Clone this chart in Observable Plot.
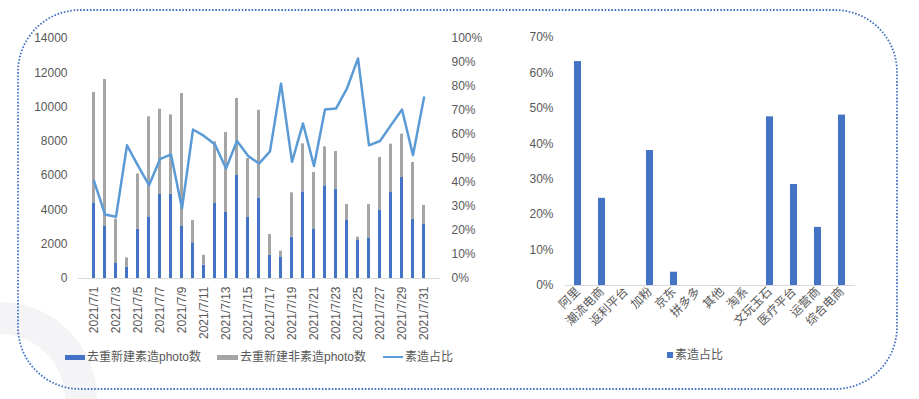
<!DOCTYPE html>
<html><head><meta charset="utf-8">
<script src="https://cdn.jsdelivr.net/npm/d3@7"></script>
<script src="https://cdn.jsdelivr.net/npm/@observablehq/plot@0.6"></script>
<style>
body{margin:0;background:#fff;}
#wrap{position:relative;width:919px;height:399px;overflow:hidden;font-family:"Liberation Sans","Noto Sans CJK SC",sans-serif;color:#595959;}
.abs{position:absolute;top:0;}
.legend{position:absolute;font-size:12px;line-height:14px;white-space:nowrap;color:#595959;}
.sw{position:absolute;}
</style></head><body><div id="wrap">
<svg class="abs" style="left:0" width="919" height="399" id="bg"></svg>
<div class="abs" id="left" style="left:0"></div>
<div class="abs" id="right" style="left:490px"></div>
<div id="legendL"></div>
<div id="legendR"></div>
<svg class="abs" style="left:0;pointer-events:none" width="919" height="399" id="fg"></svg>
</div>
<script>
// ---- data ----
const days = ["2021/7/1","2021/7/2","2021/7/3","2021/7/4","2021/7/5","2021/7/6","2021/7/7","2021/7/8","2021/7/9","2021/7/10",
  "2021/7/11","2021/7/12","2021/7/13","2021/7/14","2021/7/15","2021/7/16","2021/7/17","2021/7/18","2021/7/19","2021/7/20",
  "2021/7/21","2021/7/22","2021/7/23","2021/7/24","2021/7/25","2021/7/26","2021/7/27","2021/7/28","2021/7/29","2021/7/30","2021/7/31"];
const dayTicks = ["2021/7/1","2021/7/3","2021/7/5","2021/7/7","2021/7/9","2021/7/11","2021/7/13","2021/7/15","2021/7/17",
  "2021/7/19","2021/7/21","2021/7/23","2021/7/25","2021/7/27","2021/7/29","2021/7/31"];
const suzaoPhoto = [4410,3070,875,660,2875,3595,4900,4920,3070,2080,776,4375,3850,6010,3560,4700,1360,1260,2410,5055,
  2895,5405,5210,3420,2215,2370,4000,5015,5890,3440,3185];
const feiSuzaoPhoto = [6440,8540,2585,540,3225,5835,4975,4625,7720,1305,584,3595,4665,4490,3440,5115,1205,335,2585,2800,
  3290,2275,2200,895,195,1945,3060,2820,2530,3325,1075];
const suzaoRatio = [40.7,26.7,25.7,55.5,47.0,38.9,49.7,51.7,29.2,62.1,59.4,55.8,45.8,57.3,51.1,47.9,53.0,81.2,48.6,64.6,
  46.9,70.4,70.8,79.2,91.7,55.5,57.3,63.9,70.4,51.4,75.4];
const countTicks = [0,2000,4000,6000,8000,10000,12000,14000];
const pctTicksL = [0,10,20,30,40,50,60,70,80,90,100];
const seriesNames = ["去重新建素造photo数","去重新建非素造photo数","素造占比"];

const platforms = ["阿里","潮流电商","返利平台","加粉","京东","拼多多","其他","淘系","文玩玉石","医疗平台","运营商","综合电商"];
const platformRatio = [0.632,0.246,0,0.381,0.0375,0,0,0,0.476,0.285,0.164,0.481];
const pctTicksR = [0,0.1,0.2,0.3,0.4,0.5,0.6,0.7];
const rightSeries = "素造占比";

// ---- styles ----
const BLUE = "#4472C4", GRAY = "#A5A5A5", LINE = "#5B9BD5", TXT = "#595959";
const FONT = '"Liberation Sans","Noto Sans CJK SC",sans-serif';
const YMAX = 14000;

// background ring watermark
d3.select("#bg").append("path")
  .attr("d", d3.arc()({innerRadius:65, outerRadius:97, startAngle:0, endAngle:2*Math.PI}))
  .attr("transform","translate(0,399)").attr("fill","#f4f3f6");

// ---- left chart ----
const barRows = [];
days.forEach((d,i)=>{
  barRows.push({day:d, s:seriesNames[0], v:suzaoPhoto[i]});
  barRows.push({day:d, s:seriesNames[1], v:feiSuzaoPhoto[i]});
});
const lineRows = days.map((d,i)=>({day:d, r:suzaoRatio[i]}));

const left = Plot.plot({
  width:490, height:340, marginLeft:78, marginRight:50, marginTop:38, marginBottom:62,
  style:{background:"transparent", fontFamily:FONT, fontSize:"12px", color:TXT, overflow:"visible"},
  x:{type:"band", domain:days, paddingInner:0.72, paddingOuter:0.36, axis:null},
  y:{domain:[0,YMAX], axis:null},
  color:{domain:seriesNames.slice(0,2), range:[BLUE,GRAY]},
  marks:[
    Plot.ruleY([0], {stroke:"#d9d9d9"}),
    Plot.barY(barRows, {x:"day", y:"v", fill:"s"}),
    Plot.lineY(lineRows, {x:"day", y:d=>d.r/100*YMAX, stroke:LINE, strokeWidth:2.5}),
    Plot.axisY({anchor:"left", ticks:countTicks, tickFormat:d=>String(d), tickSize:0, tickPadding:11, label:null}),
    Plot.axisY({anchor:"right", ticks:pctTicksL.map(p=>p/100*YMAX), tickFormat:d=>Math.round(d/YMAX*100)+"%", tickSize:0, tickPadding:11, label:null}),
    Plot.axisX({ticks:dayTicks, tickRotate:-90, tickSize:0, tickPadding:8, label:null})
  ]
});
document.getElementById("left").appendChild(left);

// ---- right chart ----
const right = Plot.plot({
  width:429, height:340, marginLeft:75, marginRight:64, marginTop:37, marginBottom:55,
  style:{background:"transparent", fontFamily:FONT, fontSize:"12px", color:TXT, overflow:"visible"},
  x:{type:"band", domain:platforms, paddingInner:0.7, paddingOuter:0.35, axis:null},
  y:{domain:[0,0.7], axis:null},
  marks:[
    Plot.ruleY([0], {stroke:"#d9d9d9"}),
    Plot.barY(platforms, {x:d=>d, y:(d,i)=>platformRatio[i], fill:BLUE}),
    Plot.axisY({ticks:pctTicksR, tickFormat:d3.format(".0%"), tickSize:0, tickPadding:12, label:null}),
    Plot.axisX({tickRotate:-45, tickSize:0, tickPadding:4, label:null})
  ]
});
document.getElementById("right").appendChild(right);

// ---- legends ----
const lgL = d3.select("#legendL");
const items = [
  {x:65, w:20, h:5, c:BLUE, t:seriesNames[0], tx:87},
  {x:217, w:21, h:5, c:GRAY, t:seriesNames[1], tx:240},
  {x:383, w:20, h:2, c:LINE, t:seriesNames[2], tx:405}
];
items.forEach(it=>{
  lgL.append("div").attr("class","sw").style("left",it.x+"px").style("top",(357-it.h/2)+"px")
    .style("width",it.w+"px").style("height",it.h+"px").style("background",it.c);
  lgL.append("div").attr("class","legend").style("left",it.tx+"px").style("top","350px").text(it.t);
});
const lgR = d3.select("#legendR");
lgR.append("div").attr("class","sw").style("left","667px").style("top","352px").style("width","6px").style("height","6px").style("background",BLUE);
lgR.append("div").attr("class","legend").style("left","675px").style("top","348px").text(rightSeries);

// ---- dotted rounded border ----
d3.select("#fg").append("rect").attr("x",18).attr("y",10).attr("width",879).attr("height",379)
  .attr("rx",62).attr("ry",62).attr("fill","none").attr("stroke","#4472C4")
  .attr("stroke-width",1.8).attr("stroke-dasharray","1.6 1.7");
</script>
</body></html>
